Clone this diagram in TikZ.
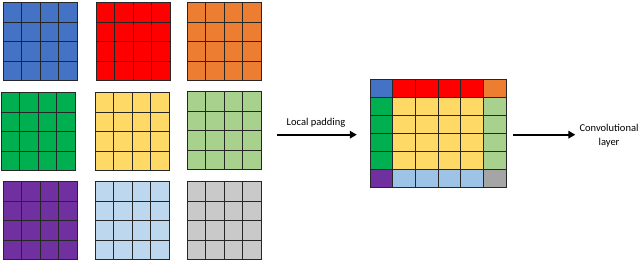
\documentclass[tikz,border=0pt]{standalone}
\usepackage{fontspec}
\setmainfont{Carlito}
\usetikzlibrary{positioning,arrows.meta}
\definecolor{cblue}{HTML}{4472C4}
\definecolor{cred}{HTML}{FF0000}
\definecolor{corange}{HTML}{ED7D31}
\definecolor{cgreen}{HTML}{00B050}
\definecolor{cyellow}{HTML}{FFD966}
\definecolor{cltgreen}{HTML}{A9D18E}
\definecolor{cpurple}{HTML}{7030A0}
\definecolor{cltblue}{HTML}{BDD7EE}
\definecolor{cgray}{HTML}{C9C9C9}
\definecolor{cpadblue}{HTML}{9DC3E6}
\definecolor{cpadgray}{HTML}{A5A5A5}

\begin{document}
\begin{tikzpicture}[x=1pt,y=-1pt,
    cell/.style={draw=black!85,line width=1pt},
    arrow/.style={-{Triangle[length=7pt,width=7.5pt]},line width=2pt},
    lbl/.style={font=\fontsize{10.5}{14}\selectfont,align=center,inner sep=2pt},
]
\useasboundingbox (0,0) rectangle (640,261);
% 4x4 input patches
\foreach \gx/\gy/\col in {3/3/cblue,96/3/cred,187/3/corange,
                          1/93/cgreen,95/93/cyellow,187/92/cltgreen,
                          3/182/cpurple,95/182/cltblue,187/182/cgray}
  \foreach \i in {0,...,3}
    \foreach \j in {0,...,3}
      \draw[cell,fill=\col] ({\gx+\i*18.5},{\gy+\j*19.5}) rectangle ++(18.5,19.5);
% padded patch: first column, inner columns, last column
\foreach \j/\a/\b/\c in {0/cblue/cred/corange,1/cgreen/cyellow/cltgreen,
                         2/cgreen/cyellow/cltgreen,3/cgreen/cyellow/cltgreen,
                         4/cgreen/cyellow/cltgreen,5/cpurple/cpadblue/cpadgray} {
  \draw[cell,fill=\a] (370,{80+\j*17.9}) rectangle ++(22.7,17.9);
  \foreach \i in {1,...,4}
    \draw[cell,fill=\b] ({370+\i*22.7},{80+\j*17.9}) rectangle ++(22.7,17.9);
  \draw[cell,fill=\c] ({370+5*22.7},{80+\j*17.9}) rectangle ++(22.7,17.9);
}
\node[minimum width=136.2pt,minimum height=107.4pt,inner sep=0pt] (padded) at (438.1,134.7) {};
\coordinate (src) at (277,134.7);
\node[lbl] (padlbl) at (316,123) {Local padding};
\node[lbl] (conv) at (609,136) {Convolutional\\layer};
\draw[arrow,shorten >=13pt] (src) -- (padded.west);
\draw[arrow,shorten <=7pt,shorten >=2pt] (padded.east) -- (padded.east -| conv.west);
\end{tikzpicture}
\end{document}
